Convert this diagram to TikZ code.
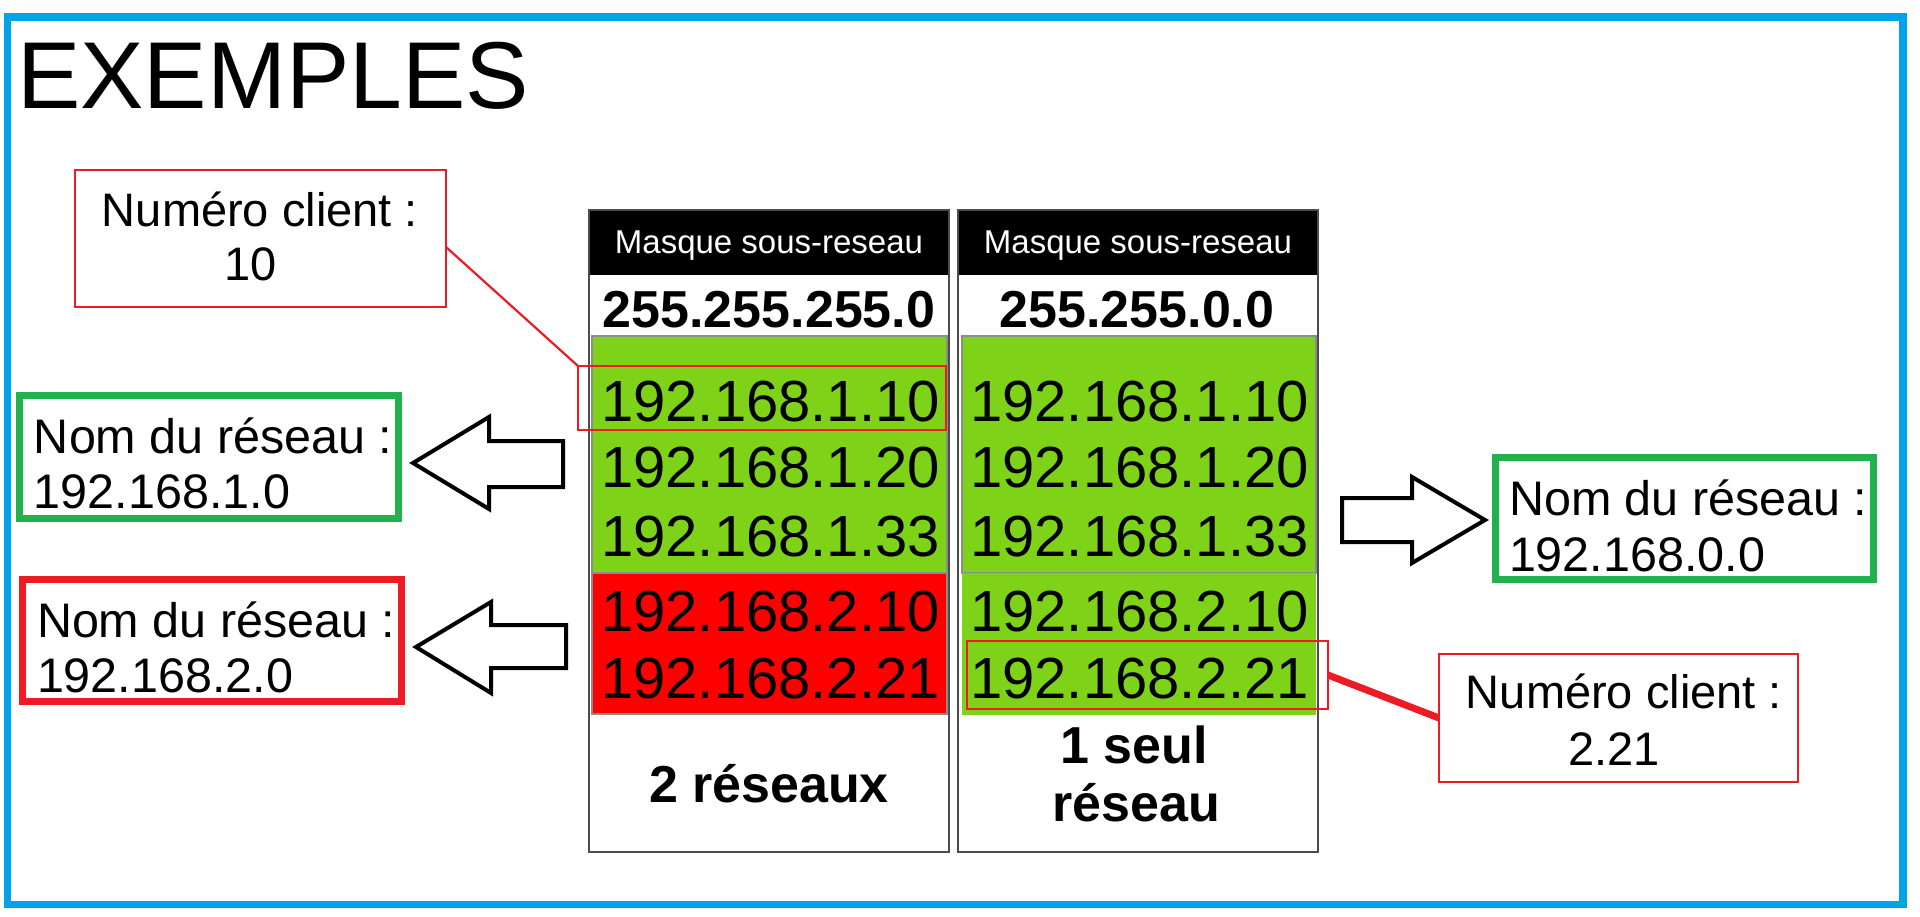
\documentclass[tikz,border=0pt]{standalone}
\usepackage{fontspec}
\setmainfont{Liberation Sans}
\usetikzlibrary{calc}
\definecolor{pblue}{RGB}{0,162,232}
\definecolor{pred}{RGB}{237,28,36}
\definecolor{pgreen}{RGB}{34,177,76}
\definecolor{lgreen}{RGB}{126,211,25}
\definecolor{fred}{RGB}{255,0,0}
\newcommand\lblfont{\fontsize{47}{54}\selectfont}
\newcommand\nomfont{\fontsize{48.5}{56}\selectfont}
\newcommand\ipfont{\fontsize{58}{67}\selectfont}
\newcommand\maskfont{\fontsize{52}{60}\selectfont\bfseries}
\newcommand\hdrfont{\fontsize{33}{38}\selectfont}
\newcommand\titlefont{\fontsize{95}{110}\selectfont}
\begin{document}
\begin{tikzpicture}[x=1pt,y=-1pt,
  box/.style={rectangle, inner sep=0pt, outer sep=0pt},
  thinred/.style={box, draw=pred, line width=2.5pt},
  thickgreen/.style={box, draw=pgreen, line width=7pt},
  thickred/.style={box, draw=pred, line width=7pt},
  colbox/.style={box, draw=black!70, line width=1.5pt},
  hdrbox/.style={box, fill=black},
  greenfill/.style={box, fill=lgreen},
  redfill/.style={box, fill=fred},
  txt/.style={inner sep=0pt, outer sep=0pt, anchor=base},
  txtl/.style={inner sep=0pt, outer sep=0pt, anchor=base west},
  blockarrow/.style={draw=black, fill=white, line width=4pt, line join=miter},
  thinlink/.style={draw=pred, line width=2.2pt},
  thicklink/.style={draw=pred, line width=7pt}]
\useasboundingbox (0,0) rectangle (1920,916);
\fill[white] (0,0) rectangle (1920,916);
% frame
\draw[pblue, line width=7.5pt] (7.5,17) rectangle (1903,904.5);
% title
\node[txtl, font=\titlefont] (title) at (17,108) {EXEMPLES};

% column 1
\node[hdrbox, minimum width=360pt, minimum height=65pt] (hdr1) at (769,242.5) {};
\node[greenfill, draw=black!45, line width=1.5pt, minimum width=355pt, minimum height=237pt] (g1) at (769.5,454.5) {};
\node[redfill, draw=black!45, line width=1.5pt, minimum width=355pt, minimum height=141pt] (r1) at (769.5,643.5) {};
\node[colbox, minimum width=360pt, minimum height=642pt] (col1) at (769,531) {};
% column 2
\node[hdrbox, minimum width=360pt, minimum height=65pt] (hdr2) at (1138,242.5) {};
\node[greenfill, draw=black!45, line width=1.5pt, minimum width=354pt, minimum height=237pt] (g2) at (1139,454.5) {};
\node[greenfill, minimum width=354pt, minimum height=142pt] (g3) at (1139,644) {};
\node[colbox, minimum width=360pt, minimum height=642pt] (col2) at (1138,531) {};

% header texts
\node[txt, font=\hdrfont, text=white] (ht1) at (769,253) {Masque sous-reseau};
\node[txt, font=\hdrfont, text=white] (ht2) at (1138,253) {Masque sous-reseau};
\node[txt, font=\maskfont] (m1) at (769,327) {255.255.255.0};
\node[txt, font=\maskfont] (m2) at (1137,327) {255.255.0.0};

% IP addresses
\node[txt, font=\ipfont] (a1) at (770.5,421) {192.168.1.10};
\node[txt, font=\ipfont] (a2) at (770.5,487) {192.168.1.20};
\node[txt, font=\ipfont] (a3) at (770.5,556) {192.168.1.33};
\node[txt, font=\ipfont] (a4) at (770.5,631) {192.168.2.10};
\node[txt, font=\ipfont] (a5) at (770.5,698) {192.168.2.21};
\node[txt, font=\ipfont] (b1) at (1139.5,421) {192.168.1.10};
\node[txt, font=\ipfont] (b2) at (1139.5,487) {192.168.1.20};
\node[txt, font=\ipfont] (b3) at (1139.5,556) {192.168.1.33};
\node[txt, font=\ipfont] (b4) at (1139.5,631) {192.168.2.10};
\node[txt, font=\ipfont] (b5) at (1139.5,698) {192.168.2.21};

% footers
\node[txt, font=\maskfont] (f1) at (769,802) {2 réseaux};
\node[txt, font=\maskfont] (f2a) at (1134,763) {1 seul};
\node[txt, font=\maskfont] (f2b) at (1136,821) {réseau};

% highlights
\node[thinred, minimum width=368pt, minimum height=64pt] (hl1) at (762,398) {};
\node[thinred, minimum width=361pt, minimum height=68pt] (hl2) at (1147.5,675) {};

% callout boxes
\node[thinred, minimum width=371pt, minimum height=137pt] (cb1) at (260.5,238.5) {};
\node[txt, font=\lblfont] (cb1a) at (260,226) {Numéro client :};
\node[txt, font=\lblfont] (cb1b) at (251,280) {10};

\node[thinred, minimum width=359pt, minimum height=128pt] (cb2) at (1618.5,718) {};
\node[txt, font=\lblfont] (cb2a) at (1624,708) {Numéro client :};
\node[txt, font=\lblfont] (cb2b) at (1614,765) {2.21};

\node[thickgreen, minimum width=379pt, minimum height=123pt] (nl1) at (209,457) {};
\node[txtl, font=\nomfont] (nl1a) at (34,453) {Nom du réseau :};
\node[txtl, font=\nomfont] (nl1b) at (34,508) {192.168.1.0};

\node[thickred, minimum width=379pt, minimum height=122pt] (nl2) at (212,640.5) {};
\node[txtl, font=\nomfont] (nl2a) at (37,637) {Nom du réseau :};
\node[txtl, font=\nomfont] (nl2b) at (37,692) {192.168.2.0};

\node[thickgreen, minimum width=378pt, minimum height=122pt] (nr) at (1684,518) {};
\node[txtl, font=\nomfont] (nra) at (1509,515) {Nom du réseau :};
\node[txtl, font=\nomfont] (nrb) at (1509,571) {192.168.0.0};

% links
\draw[thinlink] ($(cb1.east)+(0,8.5)$) -- (hl1.north west);
\draw[thicklink] (hl2.east) -- (cb2.west);

% block arrows
\draw[blockarrow] (563,441) -- (489,441) -- (489,417) -- (413,463) -- (489,509) -- (489,487) -- (563,487) -- cycle;
\draw[blockarrow] (566,625) -- (491,625) -- (491,602) -- (416,647) -- (491,693) -- (491,668) -- (566,668) -- cycle;
\draw[blockarrow] (1342,498) -- (1412,498) -- (1412,477) -- (1485,520) -- (1412,563) -- (1412,542) -- (1342,542) -- cycle;
\end{tikzpicture}
\end{document}
